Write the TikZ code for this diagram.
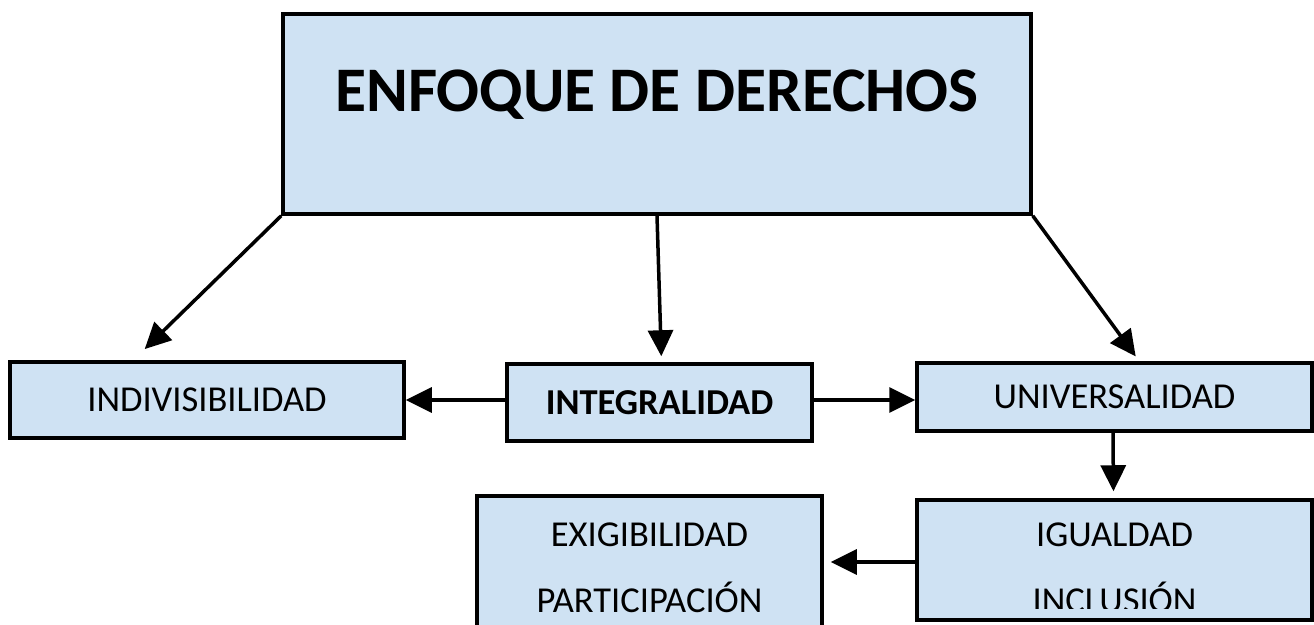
\documentclass[tikz,border=0pt]{standalone}
\usepackage{fontspec}
\setmainfont{Carlito}
\usetikzlibrary{arrows.meta,calc}
\definecolor{boxblue}{HTML}{CFE2F3}
\tikzset{
  box/.style={draw=black, fill=boxblue, line width=3.5pt, rectangle, inner sep=0pt, font=\fontsize{36.5}{40}\selectfont},
  txt/.style={anchor=base, inner sep=0pt, font=\fontsize{36.5}{40}\selectfont},
  arr/.style={draw=black, line width=3.5pt, -{Triangle[length=26pt,width=25pt]}}
}
\begin{document}
\begin{tikzpicture}[x=1pt,y=-1pt]
\useasboundingbox (0,0) rectangle (1314,624);
\clip (0,0) rectangle (1314,624);
% boxes
\node[box, minimum width=748pt, minimum height=200pt] (main) at (657,114) {};
\node[txt, font=\fontsize{63.5}{70}\selectfont\bfseries] (title) at (657,111) {ENFOQUE DE DERECHOS};
\node[box, minimum width=394pt, minimum height=76pt] (indiv) at (207,400) {INDIVISIBILIDAD};
\node[box, minimum width=305pt, minimum height=77pt, font=\fontsize{36.5}{40}\selectfont\bfseries] (integ) at (659.5,402.5) {INTEGRALIDAD};
\node[box, minimum width=395pt, minimum height=68pt] (univ) at (1114.5,397) {UNIVERSALIDAD};
\node[box, minimum width=345pt, minimum height=190pt] (exig) at (649.5,591) {};
\node[box, minimum width=395pt, minimum height=120pt] (igual) at (1114.5,560) {};
% texts in bottom boxes
\node[txt] (t1) at (649.5,546) {EXIGIBILIDAD};
\node[txt] (t2) at (649.5,612) {PARTICIPACIÓN};
\node[txt] (t3) at (1114.5,546) {IGUALDAD};
\begin{scope}
\clip (917,500) rectangle (1312,608);
\node[txt] (t4) at (1114.5,612) {INCLUSIÓN};
\end{scope}
% connectors
\draw[arr, shorten >=16pt] (main.south west) -- ([xshift=125pt]indiv.north west);
\draw[arr, shorten >=6pt] (main.south) -- ([xshift=2pt]integ.north);
\draw[arr, shorten >=6pt] (main.south east) -- ([xshift=224pt]univ.north west);
\draw[arr] ($(integ.west)+(0,-2.5)$) -- ($(integ.west -| indiv.east)+(0,-2.5)$);
\draw[arr] ($(integ.east)+(0,-2.5)$) -- ($(integ.east -| univ.west)+(0,-2.5)$);
\draw[arr, shorten >=7pt] ([xshift=-1.5pt]univ.south) -- ([xshift=-1pt]igual.north);
\draw[arr, shorten >=7pt] ($(igual.west)+(0,2)$) -- ($(igual.west -| exig.east)+(0,2)$);
\end{tikzpicture}
\end{document}
